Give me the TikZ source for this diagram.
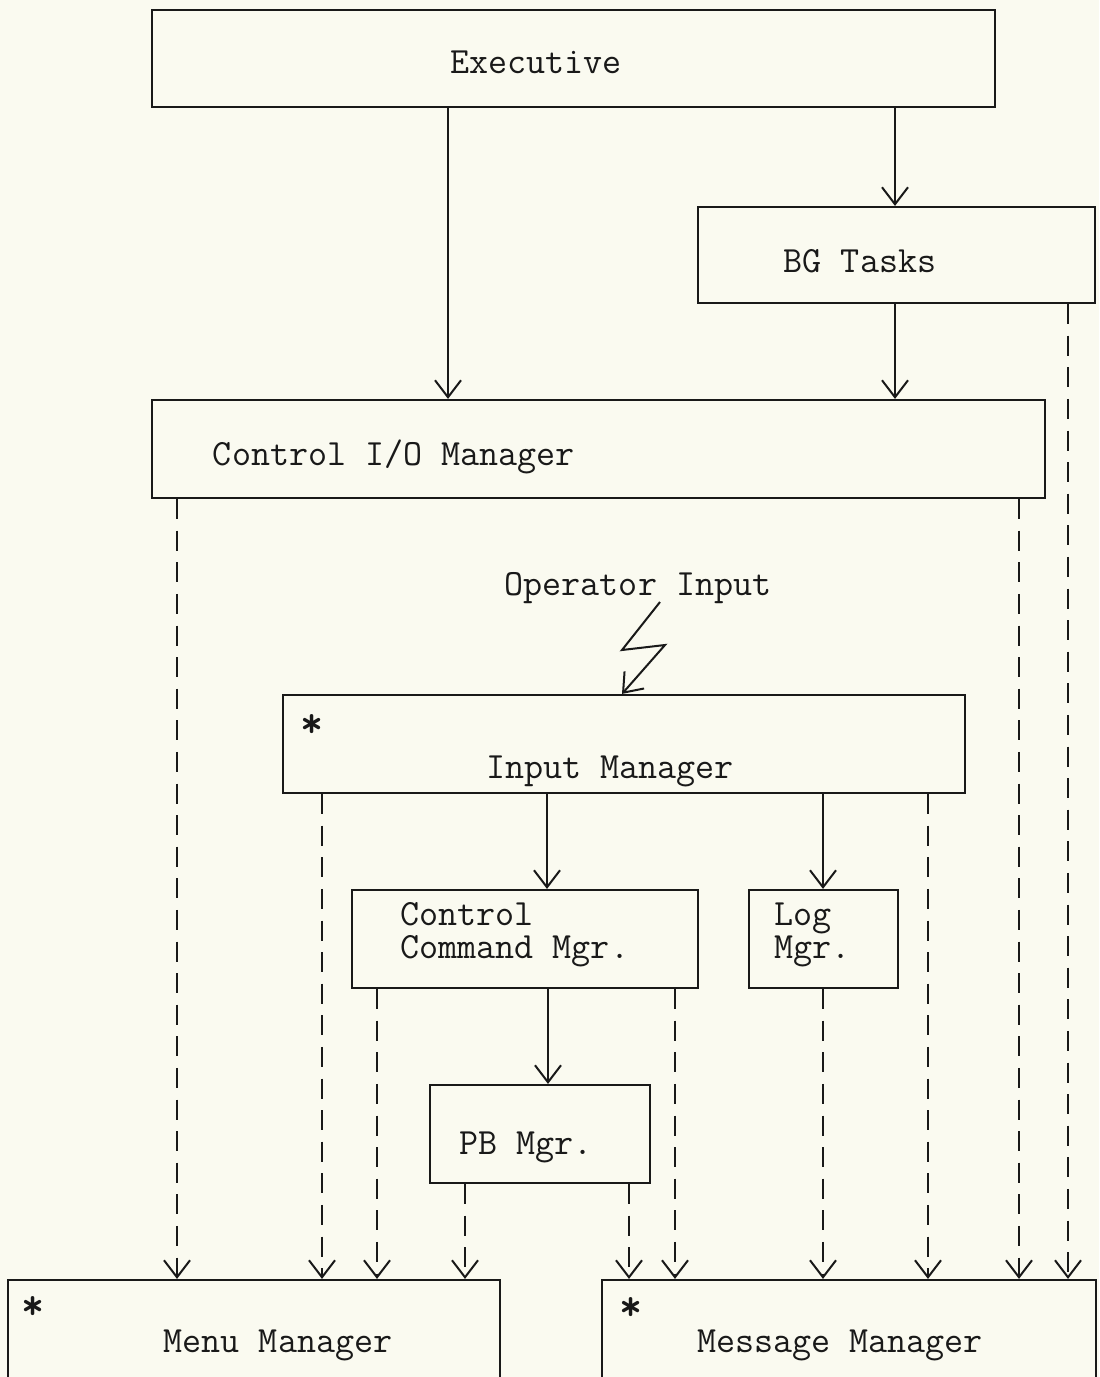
\documentclass[tikz,border=0pt]{standalone}
\usepackage{fontspec}
\usetikzlibrary{arrows.meta,fit}
\definecolor{paper}{RGB}{250,250,240}
\definecolor{ink}{RGB}{25,25,25}
\begin{document}
\begin{tikzpicture}[x=0.5pt,y=-0.5pt,
  box/.style={draw=ink, line width=1.1pt, inner sep=0pt},
  txt/.style={font=\ttfamily\fontsize{18.5pt}{16pt}\selectfont, inner sep=0pt, text=ink, anchor=base, text height=10pt, text depth=2.5pt},
  mtxt/.style={font=\ttfamily\fontsize{18.5pt}{16.5pt}\selectfont, inner sep=0pt, text=ink, align=left, anchor=base west},
  startxt/.style={font=\ttfamily\bfseries\fontsize{22pt}{16pt}\selectfont, inner sep=0pt, text=ink, anchor=base},
  arr/.style={draw=ink, line width=1pt, -{Straight Barb[length=8.5pt,width=13pt,line width=1pt]}},
  dsh/.style={arr, dash pattern=on 10pt off 5.8pt}]
\useasboundingbox (0,0) rectangle (1099,1377);
\clip (0,0) rectangle (1099,1377);
\fill[paper] (0,0) rectangle (1099,1377);

% boxes
\node[box, fit={(152,10) (995,107)}] (exec) {};
\node[box, fit={(698,207) (1095,303)}] (bg) {};
\node[box, fit={(152,400) (1045,498)}] (ctrl) {};
\node[box, fit={(283,695) (965,793)}] (inp) {};
\node[box, fit={(352,890) (698,988)}] (ccm) {};
\node[box, fit={(749,890) (898,988)}] (log) {};
\node[box, fit={(430,1085) (650,1183)}] (pb) {};
\node[box, fit={(8,1280) (500,1430)}] (menu) {};
\node[box, fit={(602,1280) (1096,1430)}] (msg) {};

% texts
\node[txt] (execT) at (536,73) {Executive};
\node[txt] (bgT) at (860,272) {BG Tasks};
\node[txt] (ctrlT) at (394,465) {Control I/O Manager};
\node[txt] (opT) at (638,595) {Operator Input};
\node[txt] (inpT) at (610,778) {Input Manager};
\node[mtxt] (ccmT) at (400,958) {Control\\Command Mgr.};
\node[mtxt] (logT) at (774,958) {Log\\Mgr.};
\node[txt] (pbT) at (526,1154) {PB Mgr.};
\node[txt] (menuT) at (278,1352) {Menu Manager};
\node[txt] (msgT) at (840,1352) {Message Manager};
\node[startxt] (inpS) at (312,737) {*};
\node[startxt] (menuS) at (33,1319) {*};
\node[startxt] (msgS) at (631,1320) {*};

% column coordinates
\foreach \c in {177,322,377,448,465,547,548,622,629,675,823,895,928,1019,1068}
  \coordinate (c\c) at (\c,0);

% solid arrows
\draw[arr] (exec.south -| c448) -- (ctrl.north -| c448);
\draw[arr] (exec.south -| c895) -- (bg.north -| c895);
\draw[arr] (bg.south -| c895) -- (ctrl.north -| c895);
\draw[arr] (inp.south -| c547) -- (ccm.north -| c547);
\draw[arr] (inp.south -| c823) -- (log.north -| c823);
\draw[arr] (ccm.south -| c548) -- (pb.north -| c548);

% operator input bolt
\coordinate (boltA) at (660,602);
\draw[arr, line join=miter] (boltA) -- (622,650) -- (665,645) -- (inp.north -| c622);

% dashed arrows to Menu Manager
\draw[dsh] (ctrl.south -| c177) -- (menu.north -| c177);
\draw[dsh] (inp.south -| c322) -- (menu.north -| c322);
\draw[dsh] (ccm.south -| c377) -- (menu.north -| c377);
\draw[dsh] (pb.south -| c465) -- (menu.north -| c465);

% dashed arrows to Message Manager
\draw[dsh] (pb.south -| c629) -- (msg.north -| c629);
\draw[dsh] (ccm.south -| c675) -- (msg.north -| c675);
\draw[dsh] (log.south -| c823) -- (msg.north -| c823);
\draw[dsh] (inp.south -| c928) -- (msg.north -| c928);
\draw[dsh] (ctrl.south -| c1019) -- (msg.north -| c1019);
\draw[dsh] (bg.south -| c1068) -- (msg.north -| c1068);
\end{tikzpicture}
\end{document}
